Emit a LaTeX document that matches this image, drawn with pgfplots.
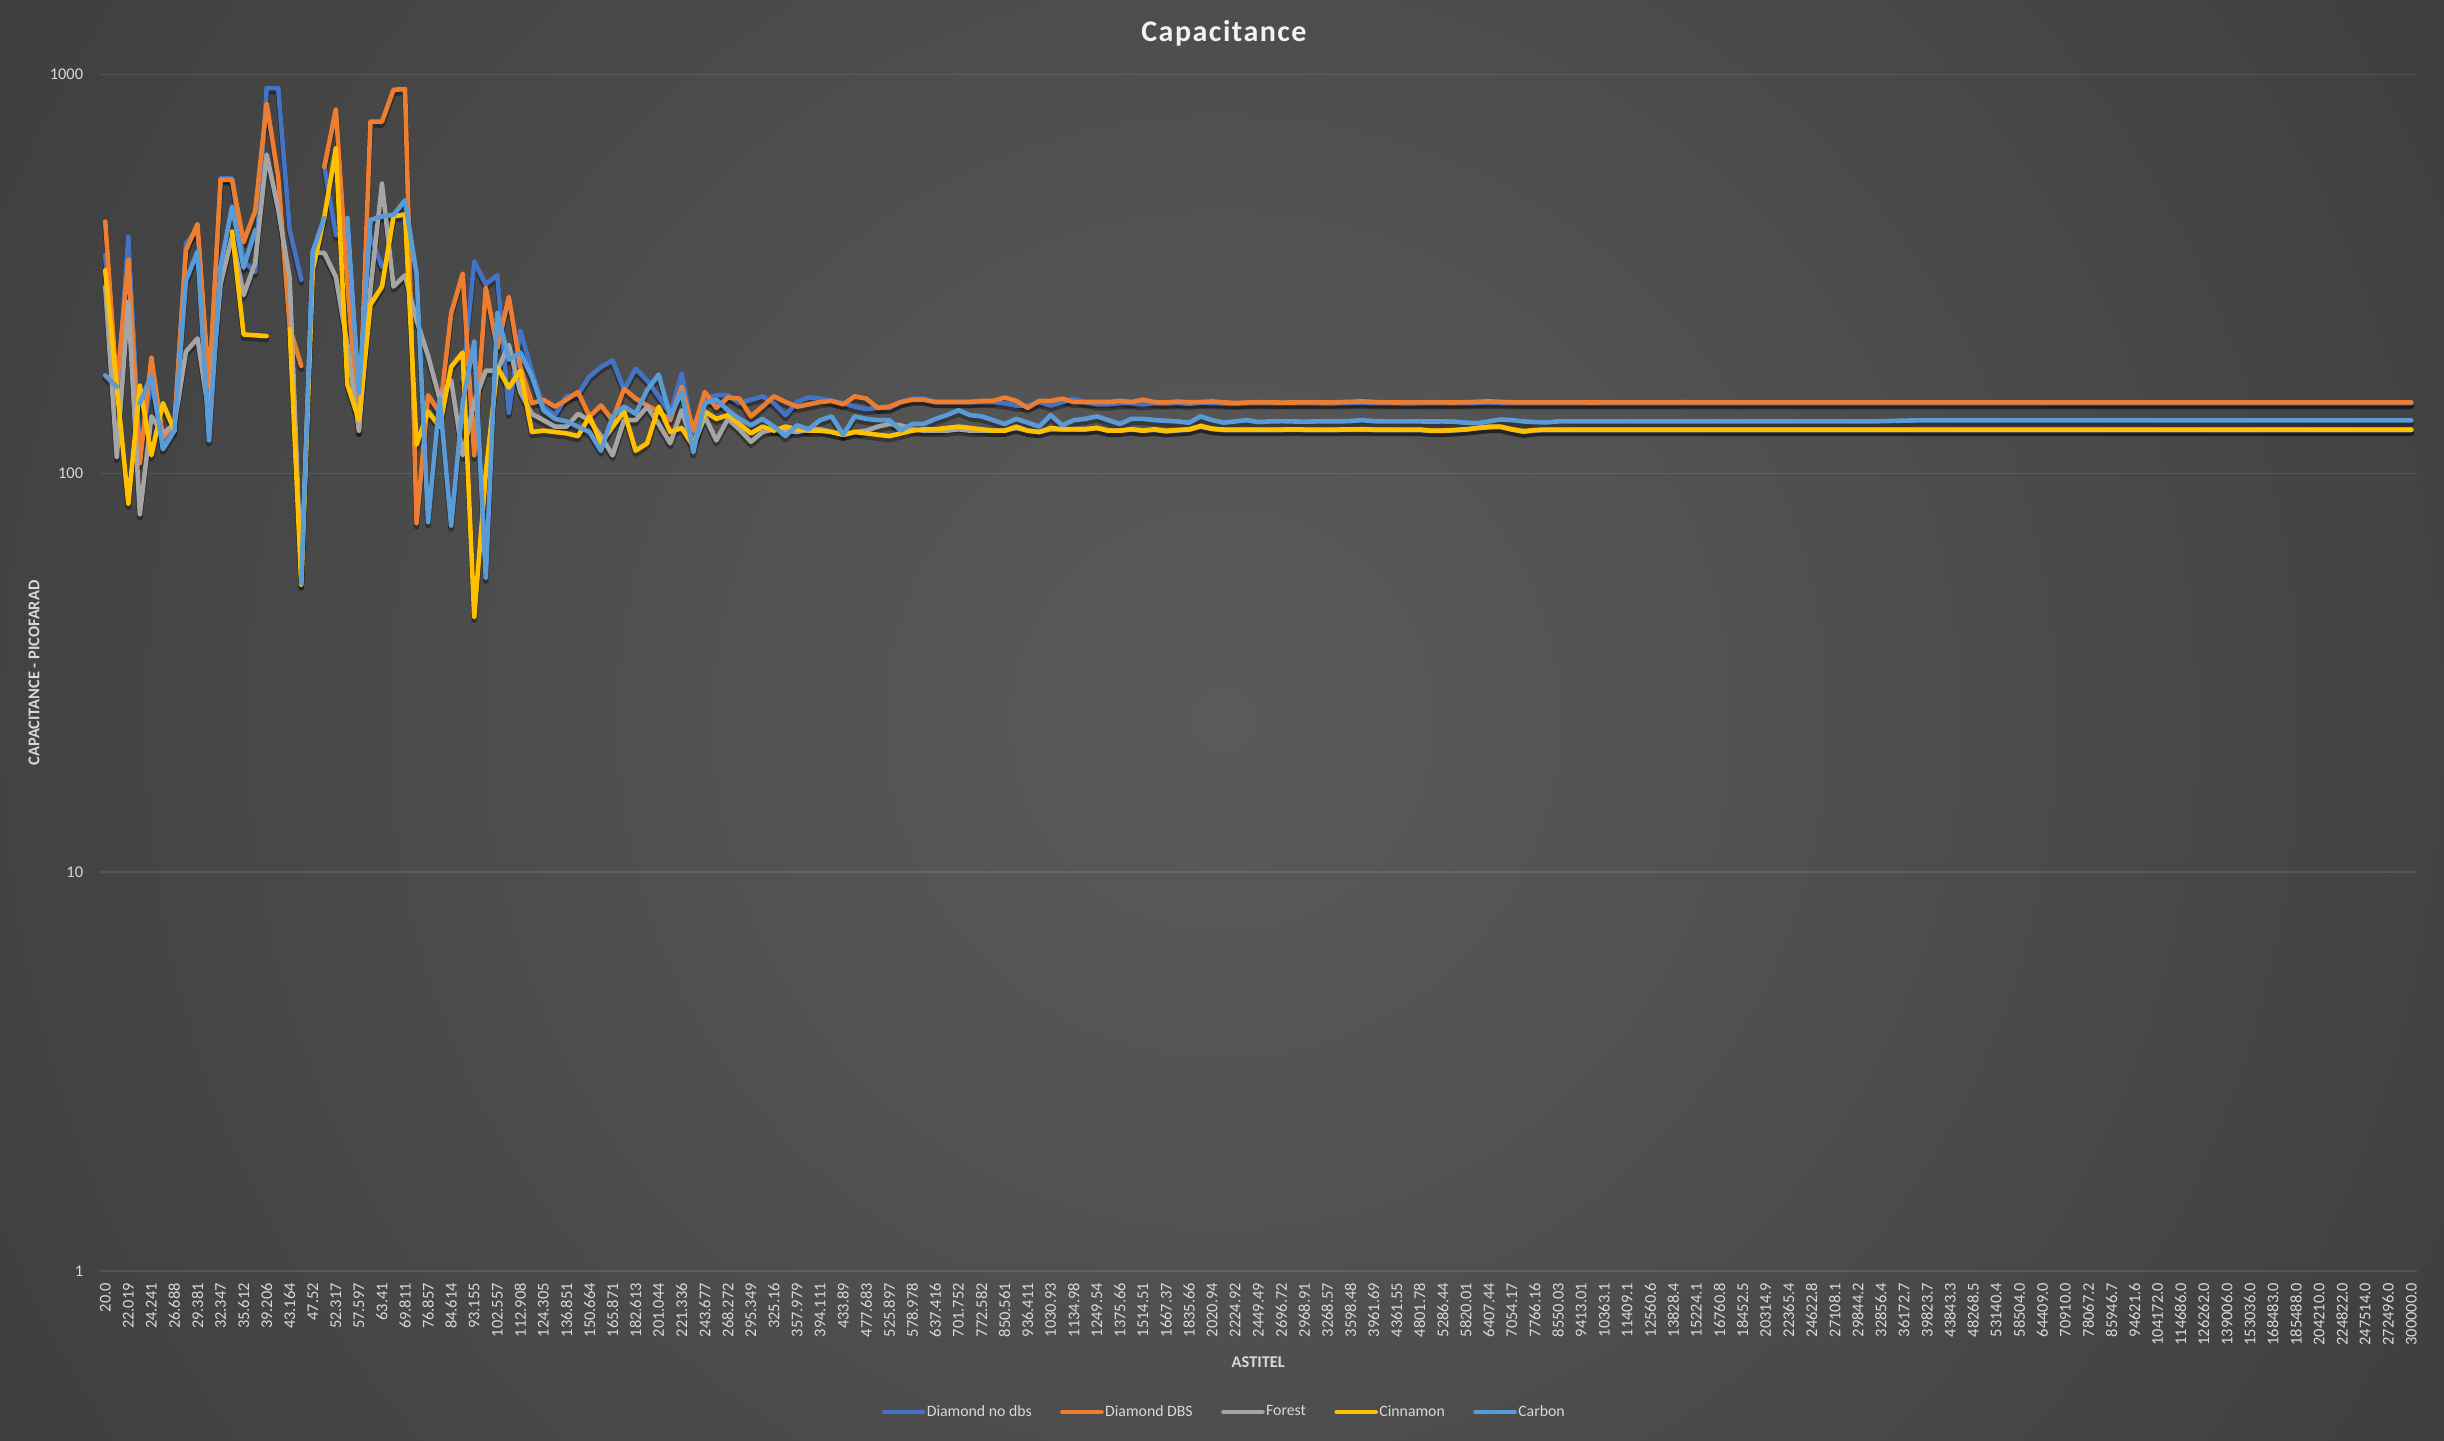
\documentclass[border=0pt]{standalone}
\usepackage{fontspec}
\setmainfont{Carlito}
\usepackage{pgfplots}
\usepackage{pgfplotstable}
\pgfplotsset{compat=1.18}
\definecolor{cBlue}{HTML}{4472C4}
\definecolor{cOrange}{HTML}{ED7D31}
\definecolor{cGray}{HTML}{A5A5A5}
\definecolor{cYellow}{HTML}{FFC000}
\definecolor{cCarbon}{HTML}{5B9BD5}
\definecolor{txt}{HTML}{D9D9D9}
\definecolor{ttl}{HTML}{F2F2F2}
\definecolor{bg0}{HTML}{5A5A5A}
\definecolor{bg1}{HTML}{525252}
\definecolor{bg2}{HTML}{4A4A4A}
\definecolor{bg3}{HTML}{404040}
\definecolor{bg4}{HTML}{323232}
\definecolor{bg5}{HTML}{2A2A2A}
\definecolor{bg6}{HTML}{262626}
\pgfdeclareradialshading{excelbg}{\pgfpoint{0bp}{0bp}}{color(0bp)=(bg0); color(10bp)=(bg1); color(17.5bp)=(bg2); color(27.5bp)=(bg3); color(40bp)=(bg4); color(50bp)=(bg5); color(58bp)=(bg6); color(71bp)=(bg6)}

\pgfplotstableread{
x a b c d e
0 353 428 294 323 176
1 150 165 110 165 165
2 392 343 269 84 nan
3 112 106 79 166 150
4 170 195 139 111 176
5 120 123 126 150 115
6 135 133 133 128 128
7 377 363 202 nan 305
8 410 422 218 nan 360
9 160 165 140 nan 121
10 550 545 299 nan 330
11 550 545 393 404 467
12 340 380 280 223 328
13 320 455 337 222 407
14 925 846 630 221 nan
15 925 553 460 nan nan
16 407 232 308 230 nan
17 306 186 55 52.6 53
18 nan nan 358 324 360
19 587 587 357 440 437
20 396 818 311 653 nan
21 nan 300 210 167 437
22 nan 128 128 136 159
23 393 762 290 265 432
24 330 762 533 294 441
25 nan 916 294 441 445
26 nan 920 314 446 484
27 nan 75 242 118 316
28 nan 157 197 143 75.5
29 nan 142 154 131 154
30 nan 252 171 185 74
31 172 317 111 201 150
32 340 111 151 43.7 214
33 298 292 181 100 54.8
34 314 206 181 185 253
35 142 277 210 164 193
36 228 185 160 181 201
37 180 150 141 127 175
38 147 153 136 128 144
39 140 147 131 127 137
40 156 153 131 126 135
41 158 160 141 124 131
42 175 139 136 139 127
43 185 148 124 119 114
44 192 136 111 131 139
45 162 163 136 143 147
46 183 154 136 114 141
47 171 148 147 119 162
48 156 143 133 147 177
49 141 136 119 127 139
50 178 165 144 130 160
51 124 128 117 117 113
52 154 160 139 143 150
53 157 146 121 137 153
54 157 155 137 140 144
55 150 154 129 133 137
56 153 139 120 126 132
57 156 147 127 131 137
58 150 156 129 128 131
59 140 151 128 131 124
60 151 147 127 129 132
61 155 149 129 128 129
62 154 151 129 128 136
63 152 152 127 127 139
64 150 149 125 125 125
65 147 156 127 127 139
66 145 154 128 126 137
67 146 146 131 125 136
68 146 147 133 124 136
69 151 151 132 126 128
70 154 153 129 128 133
71 154 153 128 129 133
72 151 151 128 129 137
73 151 151 128 130 140
74 151 151 129 131 144
75 151 151 128 130 140
76 151 152 128 129 139
77 151 152 128 128 136
78 150 155 128 128 133
79 148 152 130 131 137
80 148 146 128 128 134
81 151 152 127 127 131
82 148 152 129 130 140
83 151 154 129 129 132
84 154 151 129 129 136
85 151 151 129 129 137
86 149 151 130 130 139
87 149 151 128 128 136
88 150 152 128 128 133
89 150 151 129 129 137
90 149 153 128 128 137
91 150.0 150.9 128.6 129.0 136.0
92 149.8 150.6 127.5 127.8 135.5
93 150.2 151.4 128.2 128.5 135.0
94 149.5 150.8 128.7 129.0 134.0
95 150.4 151.0 131.0 131.5 139.0
96 150.1 151.5 129.2 129.5 136.0
97 149.9 150.7 128.5 128.8 134.0
98 149.6 150.2 128.5 128.8 135.0
99 150.0 150.6 128.5 128.8 136.0
100 150.0 150.8 128.5 128.8 134.5
101 150.0 150.7 128.5 128.8 135.0
102 150.0 150.5 128.5 128.8 135.2
103 150.1 150.6 128.6 128.9 135.0
104 150.0 150.7 128.5 128.8 134.8
105 150.0 150.7 128.5 128.8 135.0
106 149.9 150.6 128.4 128.7 135.1
107 150.0 150.8 128.5 128.8 135.0
108 150.2 151.2 128.6 128.9 135.3
109 150.3 151.6 128.7 129.0 136.0
110 150.1 151.0 128.5 128.8 135.2
111 150.0 150.7 128.5 128.8 135.0
112 150.0 150.6 128.5 128.8 135.0
113 149.9 150.7 128.4 128.7 135.1
114 150.0 150.7 128.5 128.8 135.0
115 150.0 150.8 127.8 128.0 134.9
116 150.0 150.7 127.8 128.0 135.0
117 150.0 150.6 128.2 128.5 134.8
118 150.0 150.8 128.8 129.0 134.0
119 150.2 151.2 129.8 130.0 133.6
120 150.4 151.6 130.5 131.0 135.0
121 150.2 151.1 130.8 131.0 136.5
122 150.0 150.8 128.8 129.0 136.0
123 150.0 150.7 127.2 127.5 135.0
124 150.0 150.7 128.2 128.5 134.5
125 150.0 150.7 128.5 128.8 134.2
126 150.0 150.7 128.5 128.8 135.0
127 150.0 150.7 128.5 128.8 135.0
128 150.0 150.7 128.5 128.8 135.0
129 150.0 150.6 128.5 128.8 135.0
130 150.0 150.7 128.5 128.8 135.0
131 150.0 150.7 128.5 128.8 135.0
132 150.0 150.7 128.5 128.8 135.1
133 150.0 150.7 128.5 128.8 135.0
134 150.0 150.7 128.5 128.8 135.0
135 150.0 150.7 128.5 128.8 135.0
136 150.0 150.7 128.5 128.8 135.0
137 150.0 150.8 128.5 128.8 135.0
138 150.0 150.7 128.5 128.8 135.0
139 150.0 150.7 128.5 128.8 135.0
140 150.0 150.7 128.5 128.8 135.1
141 150.0 150.7 128.5 128.8 135.0
142 150.0 150.7 128.5 128.8 135.0
143 150.0 150.7 128.5 128.8 135.0
144 150.0 150.7 128.5 128.8 135.0
145 150.0 150.7 128.5 128.8 135.0
146 150.0 150.7 128.5 128.8 135.0
147 150.0 150.7 128.5 128.8 135.0
148 150.0 150.7 128.5 128.8 135.1
149 150.0 150.7 128.5 128.8 135.0
150 150.0 150.7 128.5 128.8 135.0
151 150.0 150.7 128.5 128.8 135.0
152 150.0 150.7 128.5 128.8 135.0
153 150.0 150.7 128.5 128.8 135.0
154 150.0 150.7 128.5 128.8 135.2
155 150.0 150.7 128.5 128.8 135.4
156 150.0 150.7 128.5 128.8 135.6
157 150.0 150.7 128.5 128.8 135.8
158 150.0 150.7 128.5 128.8 135.8
159 150.0 150.7 128.5 128.8 135.8
160 150.0 150.7 128.5 128.8 135.8
161 150.0 150.7 128.5 128.8 135.8
162 150.0 150.7 128.5 128.8 135.8
163 150.0 150.7 128.5 128.8 135.8
164 150.0 150.7 128.5 128.8 135.8
165 150.0 150.7 128.5 128.8 135.8
166 150.0 150.7 128.5 128.8 135.8
167 150.0 150.7 128.5 128.8 135.8
168 150.0 150.7 128.5 128.8 135.8
169 150.0 150.7 128.5 128.8 135.8
170 150.0 150.7 128.5 128.8 135.8
171 150.0 150.7 128.5 128.8 135.8
172 150.0 150.7 128.5 128.8 135.8
173 150.0 150.7 128.5 128.8 135.8
174 150.0 150.7 128.5 128.8 135.8
175 150.0 150.7 128.5 128.8 135.8
176 150.0 150.7 128.5 128.8 135.8
177 150.0 150.7 128.5 128.8 135.8
178 150.0 150.7 128.5 128.8 135.8
179 150.0 150.7 128.5 128.8 135.8
180 150.0 150.7 128.5 128.8 135.8
181 150.0 150.7 128.5 128.8 135.8
182 150.0 150.7 128.5 128.8 135.8
183 150.0 150.7 128.5 128.8 135.8
184 150.0 150.7 128.5 128.8 135.8
185 150.0 150.7 128.5 128.8 135.8
186 150.0 150.7 128.5 128.8 135.8
187 150.0 150.7 128.5 128.8 135.8
188 150.0 150.7 128.5 128.8 135.8
189 150.0 150.7 128.5 128.8 135.8
190 150.0 150.7 128.5 128.8 135.8
191 150.0 150.7 128.5 128.8 135.8
192 150.0 150.7 128.5 128.8 135.8
193 150.0 150.7 128.5 128.8 135.8
194 150.0 150.7 128.5 128.8 135.8
195 150.0 150.7 128.5 128.8 135.8
196 150.0 150.7 128.5 128.8 135.8
197 150.0 150.7 128.5 128.8 135.8
198 150.0 150.7 128.5 128.8 135.8
199 150.0 150.7 128.5 128.8 135.8
200 150.0 150.7 128.5 128.8 135.8
}\data

\begin{document}
\begin{tikzpicture}
\useasboundingbox (0,0) rectangle (1222pt,720pt);
\begin{scope}
\clip (0,0) rectangle (1222pt,720pt);
\shade[shading=excelbg] (0pt,-251pt) rectangle (1222pt,971pt);
\end{scope}
\begin{axis}[
  at={(49.75pt,84.5pt)}, anchor=south west,
  width=1158.75pt, height=598.2pt, scale only axis,
  xmin=-0.5, xmax=200.5,
  ymode=log, ymin=1, ymax=1000,
  ytick={1,10,100,1000}, yticklabels={1,10,100,1000},
  xtick={0,2,...,200},
  xticklabels={20.0,22.019,24.241,26.688,29.381,32.347,35.612,39.206,43.164,47.52,52.317,57.597,63.41,69.811,76.857,84.614,93.155,102.557,112.908,124.305,136.851,150.664,165.871,182.613,201.044,221.336,243.677,268.272,295.349,325.16,357.979,394.111,433.89,477.683,525.897,578.978,637.416,701.752,772.582,850.561,936.411,1030.93,1134.98,1249.54,1375.66,1514.51,1667.37,1835.66,2020.94,2224.92,2449.49,2696.72,2968.91,3268.57,3598.48,3961.69,4361.55,4801.78,5286.44,5820.01,6407.44,7054.17,7766.16,8550.03,9413.01,10363.1,11409.1,12560.6,13828.4,15224.1,16760.8,18452.5,20314.9,22365.4,24622.8,27108.1,29844.2,32856.4,36172.7,39823.7,43843.3,48268.5,53140.4,58504.0,64409.0,70910.0,78067.2,85946.7,94621.6,104172.0,114686.0,126262.0,139006.0,153036.0,168483.0,185488.0,204210.0,224822.0,247514.0,272496.0,300000.0},
  axis line style={draw=none},
  major tick length=0pt, minor tick length=0pt,
  yminorticks=false,
  ymajorgrids, grid style={white, opacity=0.1, line width=0.85pt},
  tick label style={inner sep=0pt, text=txt, font=\fontsize{8.2}{9.8}\selectfont},
  xticklabel style={rotate=90, anchor=east},
  xticklabel shift=5.85pt,
  yticklabel shift=8pt,
  unbounded coords=jump,
  title={\addfontfeature{LetterSpace=5}Capacitance},
  every axis title/.style={at={(0.4852,1.0348)}, anchor=center, text=ttl, font=\fontsize{15}{18}\selectfont\bfseries},
  xlabel={ASTITEL},
  xlabel style={at={(axis description cs:0.5,-0.0761)}, anchor=center, text=txt, font=\fontsize{8.2}{9.8}\selectfont\bfseries},
  ylabel={CAPACITANCE - PICOFARAD},
  ylabel style={at={(axis description cs:-0.02826,0.5)}, anchor=center, text=txt, font=\fontsize{8.2}{9.8}\selectfont\bfseries},
  legend style={at={(0.4852,-0.1179)}, anchor=center, draw=none, fill=none, text=txt,
    font=\fontsize{7.9}{9.4}\selectfont, legend columns=-1,
    /tikz/every even column/.append style={column sep=13.5pt},
    nodes={inner sep=0.7pt}},
  legend image code/.code={\draw[#1, line cap=round] (0pt,0pt) -- (19.5pt,0pt);},
  every axis plot/.append style={line join=round, line cap=round, mark=none},
]
\addplot[forget plot, black, opacity=0.35, line width=2.8pt, yshift=-1.7pt] table[x=x,y=a]{\data};
\addplot[forget plot, black, opacity=0.35, line width=2.8pt, yshift=-1.7pt] table[x=x,y=b]{\data};
\addplot[forget plot, black, opacity=0.35, line width=2.8pt, yshift=-1.7pt] table[x=x,y=c]{\data};
\addplot[forget plot, black, opacity=0.35, line width=2.8pt, yshift=-1.7pt] table[x=x,y=d]{\data};
\addplot[forget plot, black, opacity=0.35, line width=2.8pt, yshift=-1.7pt] table[x=x,y=e]{\data};
\addplot[cBlue, line width=2.3pt] table[x=x,y=a]{\data};
\addlegendentry{Diamond no dbs}
\addplot[cOrange, line width=2.3pt] table[x=x,y=b]{\data};
\addlegendentry{Diamond DBS}
\addplot[cGray, line width=2.3pt] table[x=x,y=c]{\data};
\addlegendentry{Forest}
\addplot[cYellow, line width=2.3pt] table[x=x,y=d]{\data};
\addlegendentry{Cinnamon}
\addplot[cCarbon, line width=2.3pt] table[x=x,y=e]{\data};
\addlegendentry{Carbon}
\end{axis}
\end{tikzpicture}
\end{document}
